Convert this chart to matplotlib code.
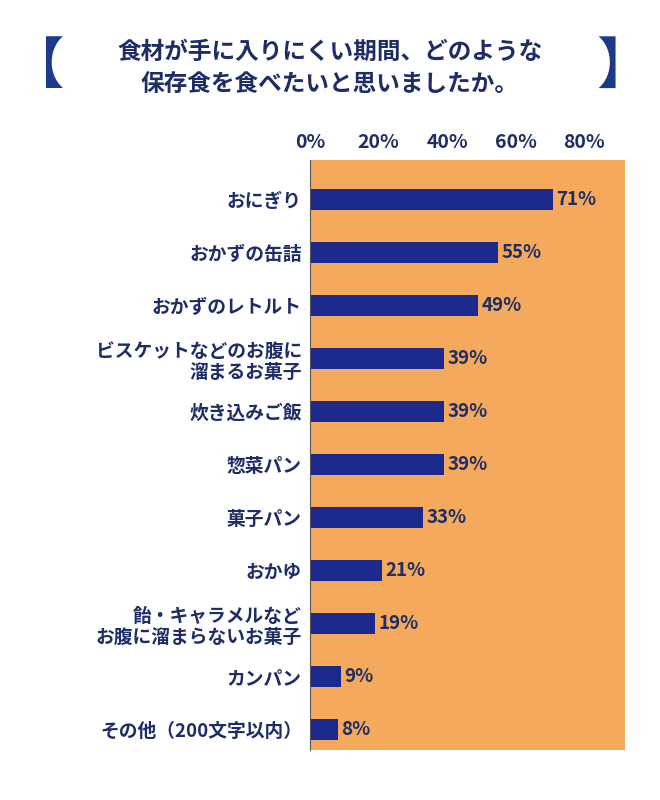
import matplotlib.pyplot as plt

plt.rcParams["font.family"] = "Noto Sans CJK JP"

labels = ["おにぎり", "おかずの缶詰", "おかずのレトルト", "ビスケットなどのお腹に\n溜まるお菓子",
          "炊き込みご飯", "惣菜パン", "菓子パン", "おかゆ",
          "飴・キャラメルなど\nお腹に溜まらないお菓子", "カンパン", "その他（200文字以内）"]
values = [71, 55, 49, 39, 39, 39, 33, 21, 19, 9, 8]
ticks = [0, 20, 40, 60, 80]

navy = "#1f2d66"
fig = plt.figure(figsize=(6.6, 8), dpi=100, facecolor="white")
ax = fig.add_axes([0.47, 0.0625, 0.477, 0.7375])
ax.set_facecolor("#f4a95c")
ax.barh(range(len(values)), values, height=0.4, color="#1b2a8c")
for i, v in enumerate(values):
    ax.text(v + 1, i, f"{v}%", va="center", ha="left", fontsize=13.5, color=navy, fontweight="bold")
ax.set_ylim(10.38, -0.75)
ax.set_xlim(0, 92)
ax.set_yticks(range(len(labels)))
ax.set_yticklabels(labels, fontsize=13.5, color=navy, fontweight="bold", linespacing=1.15)
ax.xaxis.tick_top()
ax.set_xticks(ticks)
ax.set_xticklabels([f"{t}%" for t in ticks], fontsize=14, color=navy, fontweight="bold")
ax.tick_params(length=0, pad=6)
for s in ax.spines.values():
    s.set_visible(False)
ax.spines["left"].set_visible(True)
ax.spines["left"].set_color("#555555")

fig.text(0.5, 0.915, "食材が手に入りにくい期間、どのような\n保存食を食べたいと思いましたか。",
         ha="center", va="center", fontsize=17, color=navy, fontweight="bold", linespacing=1.4)
fig.text(0.055, 0.915, "【", ha="center", va="center", fontsize=40, color="#1b3a8c")
fig.text(0.945, 0.915, "】", ha="center", va="center", fontsize=40, color="#1b3a8c")

fig.savefig("out.png", dpi=100)
